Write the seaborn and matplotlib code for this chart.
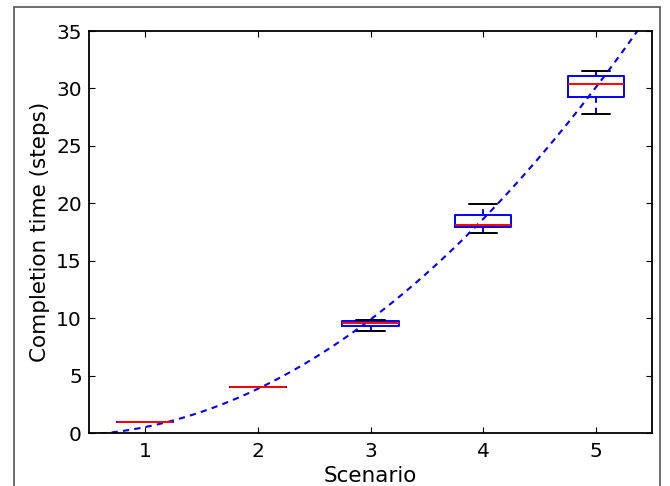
import numpy as np
import pandas as pd
import seaborn as sns
import matplotlib
matplotlib.use("Agg")
import matplotlib.pyplot as plt
from matplotlib.patches import Rectangle

scenarios = [1, 2, 3, 4, 5]
steps_s1 = [1.0, 1.0, 1.0, 1.0, 1.0]
steps_s2 = [4.0, 4.0, 4.0, 4.0, 4.0]
steps_s3 = [8.9, 9.3, 9.6, 9.8, 9.85]
steps_s4 = [17.4, 17.95, 18.15, 19.0, 19.95]
steps_s5 = [27.8, 29.3, 30.35, 31.05, 31.5]

# points along the dashed trend curve
curve_x = [0.62, 0.88, 1.25, 1.62, 2.0, 2.47, 3.0, 3.35, 3.82, 4.0, 4.18, 4.62, 5.0, 5.375]
curve_y = [0.0, 0.29, 1.01, 2.61, 3.91, 6.23, 9.57, 12.6, 16.96, 18.9, 20.6, 25.5, 30.1, 35.0]

y_ticks = [0, 5, 10, 15, 20, 25, 30, 35]

df = pd.DataFrame({
    "scenario": np.repeat(scenarios, 5),
    "steps": np.concatenate([steps_s1, steps_s2, steps_s3, steps_s4, steps_s5]),
})

sns.set_style("ticks", {"xtick.direction": "in", "ytick.direction": "in",
                        "axes.edgecolor": "black", "text.color": "black",
                        "axes.labelcolor": "black", "xtick.color": "black",
                        "ytick.color": "black"})
plt.rcParams["font.family"] = ["DejaVu Sans"]

fig = plt.figure(figsize=(6.7, 4.86), dpi=100)
ax = fig.add_axes([0.1325, 0.1084, 0.8412, 0.8278])

dash = (0, (3, 2.5))
sns.boxplot(data=df, x="scenario", y="steps", native_scale=True, width=0.5,
            fill=False, showfliers=False, linewidth=1.4, ax=ax,
            boxprops=dict(color="b"),
            whiskerprops=dict(color="b", linestyle=dash),
            capprops=dict(color="k"),
            medianprops=dict(color="r"))

ax.set_xlim(0.5, 5.5)
sns.regplot(x=curve_x, y=curve_y, order=2, scatter=False, ci=None,
            truncate=False, color="b", ax=ax,
            line_kws=dict(linestyle=dash, linewidth=1.5))

ax.set_xlim(0.5, 5.5)
ax.set_ylim(0, 35)
ax.set_xticks(scenarios)
ax.set_yticks(y_ticks)
ax.tick_params(top=True, right=True, labelsize=14.5, length=4, width=0.8,
               colors="black")
ax.tick_params(axis="x", pad=6)
ax.tick_params(axis="y", pad=5)
for s in ax.spines.values():
    s.set_linewidth(1.3)

ax.set_xlabel("Scenario", fontsize=15.5, color="black")
ax.set_ylabel("Completion time (steps)", fontsize=15.5, color="black")
ax.xaxis.set_label_coords(0.5, -0.08)
ax.yaxis.set_label_coords(-0.068, 0.5)

# grey frame of the original figure
fig.patches.append(Rectangle((14 / 670, -0.05), 646 / 670, 1 - 7 / 486 + 0.05,
                             transform=fig.transFigure, fill=False,
                             edgecolor="#555555", linewidth=1.2))

fig.savefig("out.png", dpi=100, facecolor="white")
